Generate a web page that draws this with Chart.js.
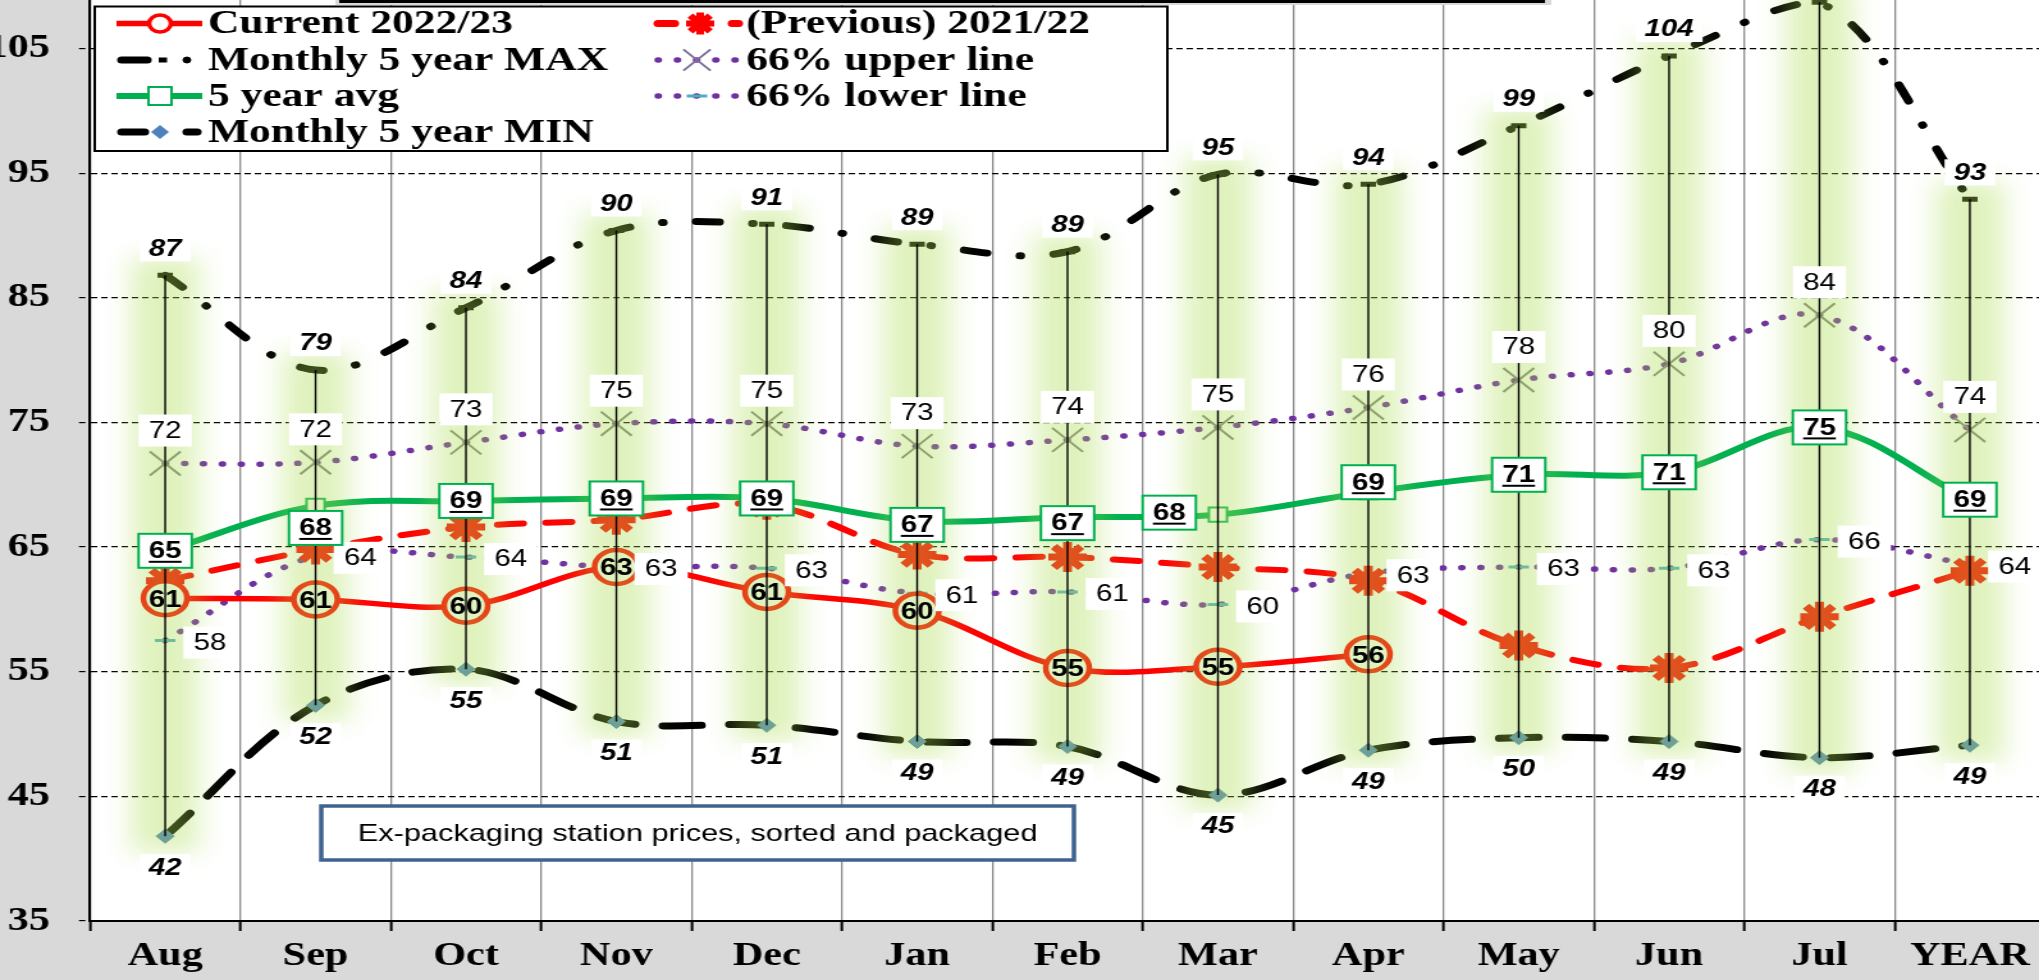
<!DOCTYPE html>
<html>
<head>
<meta charset="utf-8">
<script src="https://cdn.jsdelivr.net/npm/chart.js@4.4.1/dist/chart.umd.min.js"></script>
<style>
html,body{margin:0;padding:0;overflow:hidden;background:#d9d9d9;width:2039px;height:980px;}
#c{position:absolute;left:0;top:0;}
</style>
</head>
<body>
<canvas id="c" width="1600" height="980" style="width:2048px;height:980px"></canvas>
<script>
// ---------------- data ----------------
const categories = ['Aug','Sep','Oct','Nov','Dec','Jan','Feb','Mar','Apr','May','Jun','Jul','YEAR'];
const current2223 = [60.9,60.8,60.3,63.4,61.4,59.9,55.3,55.4,56.4,null,null,null,null];
const previous2122 = [62.3,64.8,66.6,67.2,68.4,64.4,64.2,63.4,62.3,57.1,55.3,59.4,63.1];
const avg5y = [64.7,68.3,68.7,68.9,68.9,67.1,67.4,67.6,69.4,70.8,71.0,74.6,68.8];
const max5y = [86.8,79.2,84.2,90.4,90.9,89.3,88.7,94.9,94.1,98.8,104.4,108.7,92.9];
const min5y = [41.8,52.3,55.2,51.0,50.7,49.4,49.0,45.1,48.7,49.7,49.4,48.1,49.1];
const upper66 = [71.7,71.8,73.4,74.9,74.9,73.1,73.6,74.6,76.2,78.4,79.7,83.6,74.4];
const lower66 = [57.5,64.3,64.2,63.4,63.3,61.3,61.4,60.4,62.9,63.4,63.3,65.6,63.6];
const yTicks = [35,45,55,65,75,85,95,105];
const seriesNames = {
  current:'Current 2022/23', previous:'(Previous) 2021/22', max:'Monthly 5 year MAX',
  upper:'66% upper line', avg:'5 year avg', lower:'66% lower line', min:'Monthly 5 year MIN'
};
const noteText = 'Ex-packaging station prices, sorted and packaged';

// ---------------- layout / style (canvas units; canvas is stretched 1.28x horizontally) ----------------
const avgLabelDx = [0,0,0,0,0,0,0,-38,0,0,0,0,0];
const avgLabelDy = [0,22,0,0,0,4,6,-2,-10,0,0,0,0];
const SERIF = '"Liberation Serif","Times New Roman",serif';
const SANS = '"Liberation Sans",Arial,sans-serif';
const RED = '#ff0000', GREEN = '#00b050', PURPLE = '#7030a0';

function marker(ctx, style, x, y, r, fill, stroke, lw) {
  ctx.save();
  ctx.setLineDash([]);
  ctx.lineWidth = lw; ctx.strokeStyle = stroke; ctx.fillStyle = fill; ctx.lineCap = 'butt';
  ctx.beginPath();
  if (style === 'circle') { ctx.arc(x, y, r, 0, Math.PI*2); ctx.fill(); ctx.stroke(); }
  else if (style === 'rect') { ctx.rect(x-r, y-r, 2*r, 2*r); ctx.fill(); ctx.stroke(); }
  else if (style === 'rectRot') { ctx.moveTo(x, y-r); ctx.lineTo(x+r, y); ctx.lineTo(x, y+r); ctx.lineTo(x-r, y); ctx.closePath(); ctx.fill(); }
  else if (style === 'star') { for (let k=0;k<4;k++){ const a=k*Math.PI/4; ctx.moveTo(x+Math.cos(a)*r, y+Math.sin(a)*r); ctx.lineTo(x-Math.cos(a)*r, y-Math.sin(a)*r);} ctx.stroke(); }
  else if (style === 'crossRot') { const d=r*0.7071; ctx.moveTo(x-d,y-d); ctx.lineTo(x+d,y+d); ctx.moveTo(x+d,y-d); ctx.lineTo(x-d,y+d); ctx.stroke(); }
  else if (style === 'line') { ctx.moveTo(x-r, y); ctx.lineTo(x+r, y); ctx.stroke(); }
  ctx.restore();
}
function seg(ctx, x0, x1, y, color, lw, dash, cap) {
  ctx.save(); ctx.strokeStyle = color; ctx.lineWidth = lw; ctx.setLineDash(dash || []); ctx.lineCap = cap || 'butt';
  ctx.beginPath(); ctx.moveTo(x0, y); ctx.lineTo(x1, y); ctx.stroke(); ctx.restore();
}
function boxLabel(ctx, text, cx, cy, o) {
  ctx.font = o.font;
  const tw = ctx.measureText(text).width;
  const w = tw + 2*o.padX, h = o.h;
  ctx.fillStyle = '#ffffff'; ctx.fillRect(cx-w/2, cy-h/2, w, h);
  if (o.border) { ctx.strokeStyle = o.border; ctx.lineWidth = 2; ctx.setLineDash([]); ctx.strokeRect(cx-w/2, cy-h/2, w, h); }
  ctx.fillStyle = '#000'; ctx.textAlign = 'center'; ctx.textBaseline = 'middle';
  ctx.fillText(text, cx, cy + 1);
  if (o.underline) ctx.fillRect(cx - tw/2, cy + 10, tw, 2);
}

const bgPlugin = {
  id: 'bg',
  beforeDraw(chart) {
    const {ctx, chartArea: a} = chart;
    ctx.save();
    ctx.fillStyle = '#d9d9d9'; ctx.fillRect(0, 0, chart.width, chart.height);
    ctx.fillStyle = '#ffffff'; ctx.fillRect(a.left, a.top, a.right-a.left, a.bottom-a.top);
    ctx.restore();
  }
};

const overlayPlugin = {
  id: 'overlay',
  afterDatasetsDraw(chart) {
    const {ctx, chartArea: a} = chart;
    const xs = chart.scales.x, ys = chart.scales.y;
    ctx.save();
    ctx.beginPath(); ctx.rect(a.left, a.top, a.right-a.left, a.bottom-a.top); ctx.clip();
    // translucent green glow around high-low bars
    ctx.filter = 'blur(11px)';
    ctx.fillStyle = 'rgba(172,222,80,0.38)';
    categories.forEach((c, i) => {
      const cx = xs.getPixelForValue(i);
      const t = ys.getPixelForValue(max5y[i]) - 18, b = ys.getPixelForValue(min5y[i]) + 16;
      ctx.fillRect(cx-26, t, 52, b-t);
    });
    ctx.filter = 'none';
    // high-low lines
    ctx.strokeStyle = '#000'; ctx.lineWidth = 1.4; ctx.setLineDash([]);
    ctx.beginPath();
    categories.forEach((c, i) => {
      const cx = xs.getPixelForValue(i);
      ctx.moveTo(cx, ys.getPixelForValue(max5y[i])); ctx.lineTo(cx, ys.getPixelForValue(min5y[i]));
    });
    ctx.stroke();
    // labels
    const fItB = 'italic bold 23px ' + SANS, fN = '23px ' + SANS, fB = 'bold 23px ' + SANS;
    categories.forEach((c, i) => {
      const cx = xs.getPixelForValue(i);
      boxLabel(ctx, String(Math.round(max5y[i])), cx, ys.getPixelForValue(max5y[i]) - 27, {font: fItB, padX: 7, h: 26});
      boxLabel(ctx, String(Math.round(min5y[i])), cx, ys.getPixelForValue(min5y[i]) + 31, {font: fItB, padX: 7, h: 26});
      boxLabel(ctx, String(Math.round(upper66[i])), cx, ys.getPixelForValue(upper66[i]) - 33, {font: fN, padX: 8, h: 32});
      boxLabel(ctx, String(Math.round(lower66[i])), cx + 35, ys.getPixelForValue(lower66[i]) + 2, {font: fN, padX: 8, h: 32});
      boxLabel(ctx, String(Math.round(avg5y[i])), cx + avgLabelDx[i], ys.getPixelForValue(avg5y[i]) + avgLabelDy[i], {font: fB, padX: 8, h: 34, border: GREEN, underline: true});
      if (current2223[i] !== null) {
        ctx.font = fB; ctx.fillStyle = '#000'; ctx.textAlign = 'center'; ctx.textBaseline = 'middle';
        ctx.fillText(String(Math.round(current2223[i])), cx, ys.getPixelForValue(current2223[i]) + 2);
      }
    });
    ctx.restore();
  },
  afterDraw(chart) {
    const ctx = chart.ctx;
    ctx.save();
    // top box edge
    ctx.fillStyle = '#d9d9d9'; ctx.fillRect(262, 0, 950, 5);
    ctx.fillStyle = '#000'; ctx.fillRect(265, 0, 942, 3);
    // legend
    ctx.fillStyle = '#fff'; ctx.fillRect(74, 6.5, 838, 144.5);
    ctx.strokeStyle = '#000'; ctx.lineWidth = 2; ctx.setLineDash([]); ctx.strokeRect(74, 6.5, 838, 144.5);
    const rows = [23.5, 60, 96, 132];
    // col 1
    seg(ctx, 91, 158, rows[0], RED, 5.5);
    marker(ctx, 'circle', 125, rows[0], 8.5, '#fff', RED, 3.5);
    seg(ctx, 95, 115, rows[1], '#000', 7, [], 'round');
    seg(ctx, 124, 130.5, rows[1], '#000', 5);
    marker(ctx, 'circle', 146, rows[1], 3, '#000', '#000', 1);
    seg(ctx, 91, 158, rows[2], GREEN, 6);
    marker(ctx, 'rect', 125, rows[2], 9, '#fff', GREEN, 2);
    seg(ctx, 95, 113, rows[3], '#000', 7, [], 'round');
    marker(ctx, 'rectRot', 125, rows[3], 7, '#4f81bd', '#4f81bd', 1);
    seg(ctx, 146, 154, rows[3], '#000', 7, [], 'round');
    // col 2
    seg(ctx, 514, 527, rows[0], RED, 7, [], 'round');
    marker(ctx, 'star', 547, rows[0], 11, RED, RED, 6);
    seg(ctx, 572, 577, rows[0], RED, 7, [], 'round');
    seg(ctx, 514, 576, rows[1], PURPLE, 5.5, [0.5, 14.5], 'round');
    marker(ctx, 'crossRot', 544.5, rows[1], 15, '#7f7f7f', '#7f6f9f', 2);
    seg(ctx, 514, 576, rows[2], PURPLE, 5.5, [0.5, 14.5], 'round');
    marker(ctx, 'line', 544.5, rows[2], 8, '#4bacc6', '#4bacc6', 3);
    ctx.font = 'bold 34px ' + SERIF; ctx.fillStyle = '#000'; ctx.textAlign = 'left'; ctx.textBaseline = 'middle';
    ctx.fillText(seriesNames.current, 162.5, rows[0] + 1);
    ctx.fillText(seriesNames.max, 162.5, rows[1] + 1);
    ctx.fillText(seriesNames.avg, 162.5, rows[2] + 1);
    ctx.fillText(seriesNames.min, 162.5, rows[3] + 1);
    ctx.fillText(seriesNames.previous, 583, rows[0] + 1);
    ctx.fillText(seriesNames.upper, 583, rows[1] + 1);
    ctx.fillText(seriesNames.lower, 583, rows[2] + 1);
    // note box
    ctx.fillStyle = '#fff'; ctx.fillRect(251, 806, 588, 54);
    ctx.strokeStyle = '#3f6390'; ctx.lineWidth = 3.5; ctx.strokeRect(251, 806, 588, 54);
    ctx.font = '24px ' + SANS; ctx.fillStyle = '#000'; ctx.textAlign = 'center'; ctx.textBaseline = 'middle';
    ctx.fillText(noteText, 545, 834);
    ctx.restore();
  }
};

const common = {fill: false, tension: 0.35, spanGaps: false};
new Chart(document.getElementById('c'), {
  type: 'line',
  data: {
    labels: categories,
    datasets: [
      Object.assign({label: seriesNames.current, data: current2223, order: 0,
        borderColor: RED, borderWidth: 5.5,
        pointStyle: 'circle', pointRadius: 17, pointBorderWidth: 4.5, pointBorderColor: RED, pointBackgroundColor: '#ffffff'}, common),
      Object.assign({label: seriesNames.previous, data: previous2122, order: 1,
        borderColor: RED, borderWidth: 6, borderDash: [20, 18], borderCapStyle: 'round',
        pointStyle: 'star', pointRadius: 15, pointBorderWidth: 7, pointBorderColor: RED, pointBackgroundColor: RED}, common),
      Object.assign({label: seriesNames.max, data: max5y, order: 5,
        borderColor: '#000', borderWidth: 7, borderDash: [18, 26, 0.5, 26], borderCapStyle: 'round',
        pointStyle: 'line', pointRadius: 6, pointBorderWidth: 5, pointBorderColor: '#000'}, common),
      Object.assign({label: seriesNames.upper, data: upper66, order: 3,
        borderColor: PURPLE, borderWidth: 5.5, borderDash: [0.5, 14.3], borderCapStyle: 'round',
        pointStyle: 'crossRot', pointRadius: 17, pointBorderWidth: 2, pointBorderColor: '#7f7f7f'}, common),
      Object.assign({label: seriesNames.avg, data: avg5y, order: 2,
        borderColor: GREEN, borderWidth: 6,
        pointStyle: 'rect', pointRadius: 10, pointBorderWidth: 2, pointBorderColor: GREEN, pointBackgroundColor: '#ffffff'}, common),
      Object.assign({label: seriesNames.lower, data: lower66, order: 4,
        borderColor: PURPLE, borderWidth: 5.5, borderDash: [0.5, 14.3], borderCapStyle: 'round',
        pointStyle: 'line', pointRadius: 8, pointBorderWidth: 3, pointBorderColor: '#4bacc6'}, common),
      Object.assign({label: seriesNames.min, data: min5y, order: 6,
        borderColor: '#000', borderWidth: 7, borderDash: [30, 22], borderCapStyle: 'round',
        pointStyle: 'rectRot', pointRadius: 7, pointBorderWidth: 1, pointBorderColor: '#4f81bd', pointBackgroundColor: '#4f81bd'}, common)
    ]
  },
  options: {
    responsive: false, animation: false, devicePixelRatio: 1,
    layout: {autoPadding: false, padding: {left: 0, right: 2.3, top: 0, bottom: 0}},
    plugins: {legend: {display: false}, tooltip: {enabled: false}},
    events: [],
    scales: {
      x: {
        type: 'category', offset: true,
        grid: {offset: true, color: '#8a8a8a', lineWidth: 1.3, tickColor: '#000', tickLength: 10, tickWidth: 2},
        border: {display: true, color: '#000', width: 2},
        ticks: {font: {family: SERIF, size: 33, weight: 'bold'}, color: '#000', padding: 6, maxRotation: 0, autoSkip: false},
        afterFit(s) { s.height = 59; s.paddingLeft = 0; s.paddingRight = 0; }
      },
      y: {
        min: 35, max: 108.89,
        grid: {color: '#000', lineWidth: 1.2, tickColor: '#000', tickLength: 8.6, tickBorderDash: [5, 3]},
        border: {display: true, color: '#000', width: 2, dash: [5, 3]},
        ticks: {font: {family: SERIF, size: 33, weight: 'bold'}, color: '#000', padding: 22.7, includeBounds: false},
        afterBuildTicks(s) { s.ticks = yTicks.map(v => ({value: v})); },
        afterFit(s) { s.width = 70.3; s.paddingTop = 0; s.paddingBottom = 0; }
      }
    }
  },
  plugins: [bgPlugin, overlayPlugin]
});
</script>
</body>
</html>
